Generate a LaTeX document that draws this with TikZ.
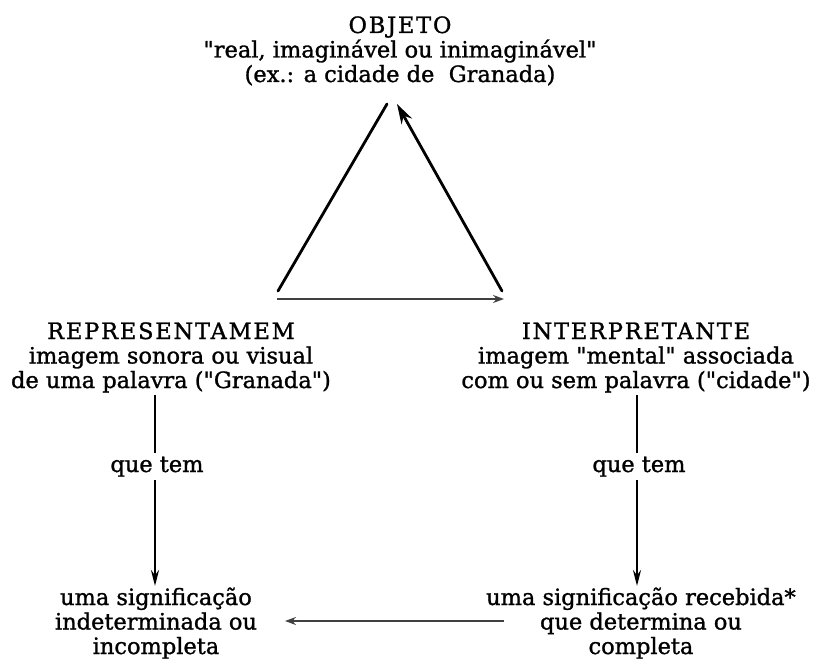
\documentclass[tikz,border=0pt]{standalone}
\usepackage{fontspec}
\setmainfont{DejaVu Serif}[Ligatures=TeXOff, FakeBold=1.2]
\usetikzlibrary{arrows.meta}
\usetikzlibrary{positioning}

\newcommand{\caps}[1]{{\addfontfeature{LetterSpace=8}#1}}

\tikzset{
  txt/.style={align=center, anchor=base, inner sep=0pt, font=\fontsize{22.5}{24.5}\selectfont},
  qtem/.style={anchor=base, inner sep=3pt, font=\fontsize{22.5}{24.5}\selectfont},
  lado/.style={line width=2.8pt, line cap=round},
  fina/.style={line width=1.6pt, draw=black!75},
  vert/.style={line width=2.4pt},
}

\begin{document}
\begin{tikzpicture}[x=1pt,y=-1pt]
\useasboundingbox (0,0) rectangle (815,666);

\node[txt] (objeto) at (400,82) {\caps{OBJETO}\\"real, imaginável ou inimaginável"\\(ex.: a cidade de\ \ Granada)};
\node[txt] (repr) at (171,388) {\caps{REPRESENTAMEM}\\imagem sonora ou visual\\de uma palavra ("Granada")};
\node[txt] (interp) at (636,388) {\caps{INTERPRETANTE}\\imagem "mental" associada\\com ou sem palavra ("cidade")};
\node[qtem] (queA) at (157,472) {que tem};
\node[qtem] (queB) at (639,472) {que tem};
\node[txt] (signA) at (156,654) {uma significação\\indeterminada ou\\incompleta};
\node[txt] (signB) at (641,654) {uma significação recebida*\\que determina ou\\completa};

% triangulo
\coordinate (topoA) at (387,104);
\coordinate (topoB) at (397,104);
\coordinate (baseA) at (278,291);
\coordinate (baseB) at (502,291);
\coordinate (horA) at (277,299);
\coordinate (horB) at (504,299);

\draw[lado] (baseA) -- (topoA);
\draw[lado, -{Stealth[open, length=20pt, width=12pt]}] (baseB) -- (topoB);
\draw[fina, -{Stealth[length=11pt, width=8pt]}] (horA) -- (horB);

% colunas
\coordinate (inA) at (155,395);
\coordinate (inB) at (637,395);
\coordinate (fimA) at (155,586);
\coordinate (fimB) at (637,586);

\draw[vert] (inA) -- (queA.north -| inA);
\draw[vert, -{Stealth[length=16pt, width=8pt]}] (queA.south -| inA) -- (fimA);
\draw[vert] (inB) -- (queB.north -| inB);
\draw[vert, -{Stealth[length=16pt, width=8pt]}] (queB.south -| inB) -- (fimB);

\draw[fina, -{Stealth[length=11pt, width=8pt]}] (504,621) coordinate (volA) -- (285,621) coordinate (volB);
\end{tikzpicture}
\end{document}
